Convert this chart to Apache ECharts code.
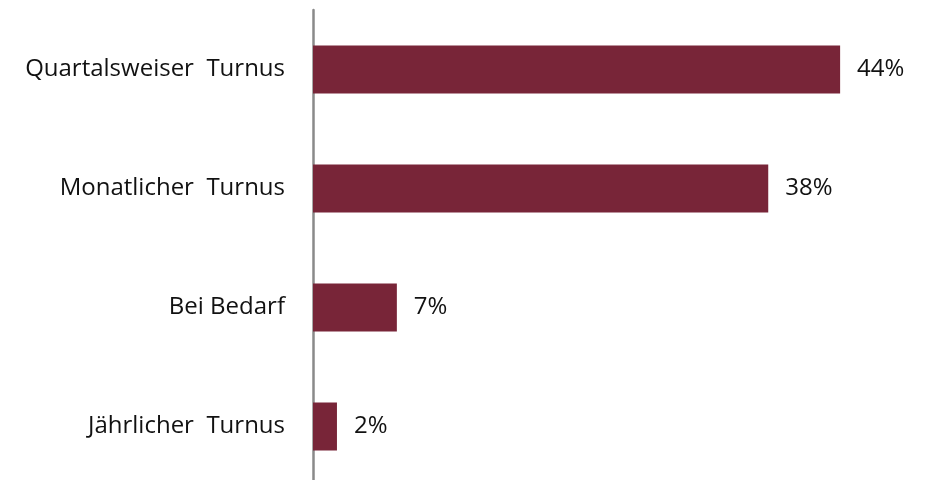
<!DOCTYPE html>
<html>
<head>
<meta charset="utf-8">
<script src="https://cdn.jsdelivr.net/npm/echarts@6/dist/echarts.min.js"></script>
<style>
  html, body { margin: 0; padding: 0; background: #fff; }
  #chart { width: 928px; height: 480px; }
</style>
</head>
<body>
<div id="chart"></div>
<script>
// Kategorien von oben nach unten (y-Achse wird invertiert)
const categories = ['Quartalsweiser  Turnus', 'Monatlicher  Turnus', 'Bei Bedarf', 'Jährlicher  Turnus']
const values = [44, 38, 7, 2]

const chart = echarts.init(document.getElementById('chart'))
const option = {
    animation: false,
    grid: { left: 313, right: 16, top: 10, height: 476, outerBoundsMode: 'none', containLabel: false },
    xAxis: {
        type: 'value',
        min: 0,
        max: 50,
        show: false
    },
    yAxis: {
        type: 'category',
        data: categories,
        inverse: true,
        axisLine: { show: true, lineStyle: { color: '#8a8a8a', width: 2.5 } },
        axisTick: { show: false },
        axisLabel: {
            margin: 28,
            color: '#111',
            fontSize: 24,
            fontFamily: 'Open Sans'
        }
    },
    series: [{
        type: 'bar',
        data: values,
        barWidth: 48,
        itemStyle: { color: '#782538' },
        label: {
            show: true,
            position: 'right',
            distance: 17,
            formatter: '{c}%',
            color: '#111',
            fontSize: 24,
            fontFamily: 'Open Sans'
        }
    }]
}
chart.setOption(option)
</script>
</body>
</html>
